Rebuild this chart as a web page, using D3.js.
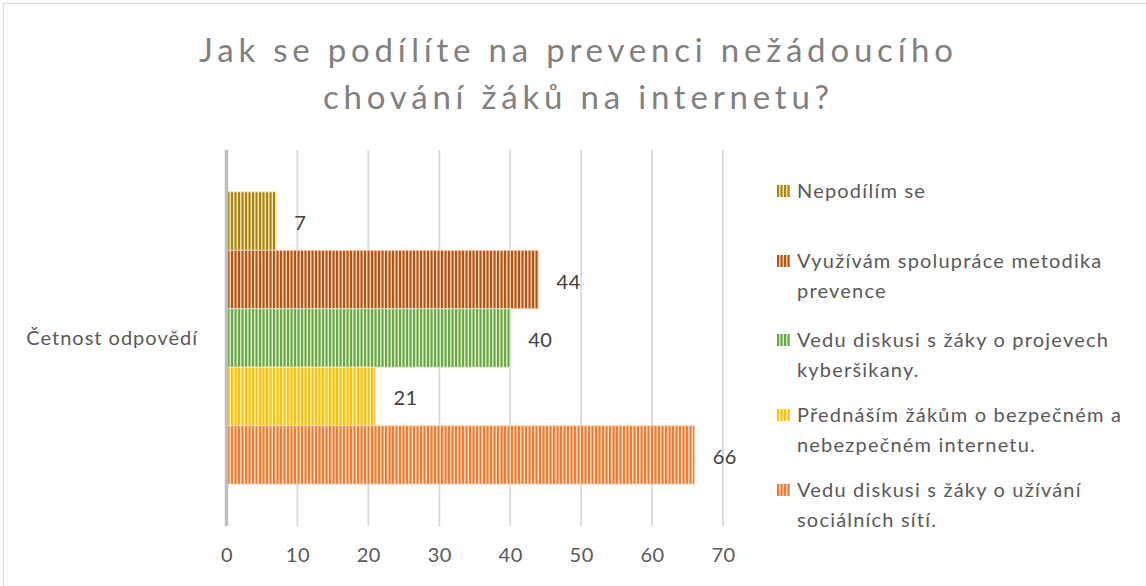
<!DOCTYPE html>
<html>
<head>
<meta charset="utf-8">
<script src="https://cdn.jsdelivr.net/npm/d3@7/dist/d3.min.js"></script>
<style>
  html, body { margin: 0; padding: 0; background: #fff; }
  svg { display: block; }
</style>
</head>
<body>
<svg id="chart" width="1146" height="586"></svg>
<script>
// ---- data ----
const titleLines = ["Jak se podílíte na prevenci nežádoucího", "chování žáků na internetu?"];
const category = ["Četnost odpovědí"];
const seriesNames = [
  "Nepodílím se",
  "Využívám spolupráce metodika prevence",
  "Vedu diskusi s žáky o projevech kyberšikany.",
  "Přednáším žákům o bezpečném a nebezpečném internetu.",
  "Vedu diskusi s žáky o užívání sociálních sítí."
];
const legendLines = [
  ["Nepodílím se"],
  ["Využívám spolupráce metodika", "prevence"],
  ["Vedu diskusi s žáky o projevech", "kyberšikany."],
  ["Přednáším žákům o bezpečném a", "nebezpečném internetu."],
  ["Vedu diskusi s žáky o užívání", "sociálních sítí."]
];
const seriesValues = [7, 44, 40, 21, 66];
const darkColors  = ["#a8840a", "#b5530f", "#6aa842", "#ffc000", "#ee7d31"];
const lightColors = ["#f2e7c0", "#f5d8c2", "#dcedd0", "#fff3c8", "#fbdcc6"];
const xTicks = [0, 10, 20, 30, 40, 50, 60, 70];

// ---- layout ----
const W = 1146, H = 586;
const plot = { left: 226.5, right: 723, top: 150, bottom: 526 };
const svg = d3.select("#chart");
const FONT = "Lato, 'Open Sans', sans-serif";

// border
svg.append("rect").attr("x", 3.5).attr("y", 3.5).attr("width", W + 10).attr("height", H + 10)
  .attr("fill", "none").attr("stroke", "#d9d9d9").attr("stroke-width", 1);

// patterns
const defs = svg.append("defs");
seriesNames.forEach((s, i) => {
  const p = defs.append("pattern").attr("id", "pat" + i)
    .attr("patternUnits", "userSpaceOnUse").attr("width", 7).attr("height", 10);
  p.append("rect").attr("width", 7).attr("height", 10).attr("fill", lightColors[i]);
  p.append("rect").attr("x", 0).attr("width", 2.1).attr("height", 10).attr("fill", darkColors[i]);
  p.append("rect").attr("x", 3.5).attr("width", 2.1).attr("height", 10).attr("fill", darkColors[i]);
});

// scales
const x = d3.scaleLinear().domain([0, 70]).range([plot.left, plot.right]);
const yCat = d3.scaleBand().domain(category).range([plot.top, plot.bottom])
  .paddingInner(0).paddingOuter(0.1432);
const ySer = d3.scaleBand().domain(seriesNames).range([0, yCat.bandwidth()]).padding(0);

// gridlines
svg.append("g").selectAll("line").data(xTicks.filter(t => t > 0)).join("line")
  .attr("x1", d => x(d)).attr("x2", d => x(d))
  .attr("y1", plot.top).attr("y2", plot.bottom)
  .attr("stroke", "#d9d9d9").attr("stroke-width", 1.8);

// x axis labels using d3 axis
const xAxis = d3.axisBottom(x).tickValues(xTicks).tickSize(0).tickPadding(0);
const gx = svg.append("g").attr("transform", `translate(0,${plot.bottom + 22})`).call(xAxis);
gx.select(".domain").remove();
gx.selectAll("text").attr("font-family", FONT).attr("font-size", 20)
  .attr("fill", "#595959").attr("dy", "0.71em").attr("letter-spacing", 0.5);

// bars
const gBars = svg.append("g").attr("transform", `translate(0,${yCat(category[0])})`);
gBars.selectAll("rect").data(seriesValues).join("rect")
  .attr("x", x(0) + 1)
  .attr("y", (d, i) => ySer(seriesNames[i]))
  .attr("width", d => x(d) - x(0) - 1)
  .attr("height", ySer.bandwidth())
  .attr("fill", (d, i) => `url(#pat${i})`)
  .attr("stroke", (d, i) => lightColors[i]).attr("stroke-width", 1).attr("stroke-opacity", 0.8);

// data labels
gBars.selectAll("text").data(seriesValues).join("text")
  .attr("x", d => x(d) + 18)
  .attr("y", (d, i) => ySer(seriesNames[i]) + ySer.bandwidth() / 2 + 2)
  .attr("dy", "0.35em")
  .attr("font-family", FONT).attr("font-size", 20).attr("fill", "#404040")
  .attr("letter-spacing", 0.5)
  .text(d => d);

// vertical axis line
svg.append("line").attr("x1", x(0)).attr("x2", x(0)).attr("y1", plot.top).attr("y2", plot.bottom)
  .attr("stroke", "#bfbfbf").attr("stroke-width", 3.5);

// category label
svg.append("text").attr("x", 198).attr("y", (plot.top + plot.bottom) / 2)
  .attr("dy", "0.35em").attr("text-anchor", "end")
  .attr("font-family", FONT).attr("font-size", 20).attr("fill", "#595959")
  .attr("letter-spacing", 1)
  .text(category[0]);

// title
const tSpacing = 4.8;
svg.append("g").selectAll("text").data(titleLines).join("text")
  .attr("x", 576 + tSpacing / 2).attr("y", (d, i) => 62 + i * 47)
  .attr("text-anchor", "middle")
  .attr("font-family", FONT).attr("font-weight", 400).attr("font-size", 33)
  .attr("letter-spacing", tSpacing).attr("fill", "#808080")
  .text(d => d);

// legend
const legendBaselines = [198, 268, 347, 422, 497];
const lg = svg.append("g");
legendLines.forEach((lines, i) => {
  const b = legendBaselines[i];
  lg.append("rect").attr("x", 777).attr("y", b - 13).attr("width", 13).attr("height", 12)
    .attr("fill", `url(#pat${i})`);
  lines.forEach((ln, j) => {
    lg.append("text").attr("x", 797).attr("y", b + j * 30)
      .attr("font-family", FONT).attr("font-size", 20).attr("fill", "#595959")
      .attr("letter-spacing", 1.2)
      .text(ln);
  });
});
</script>
</body>
</html>
